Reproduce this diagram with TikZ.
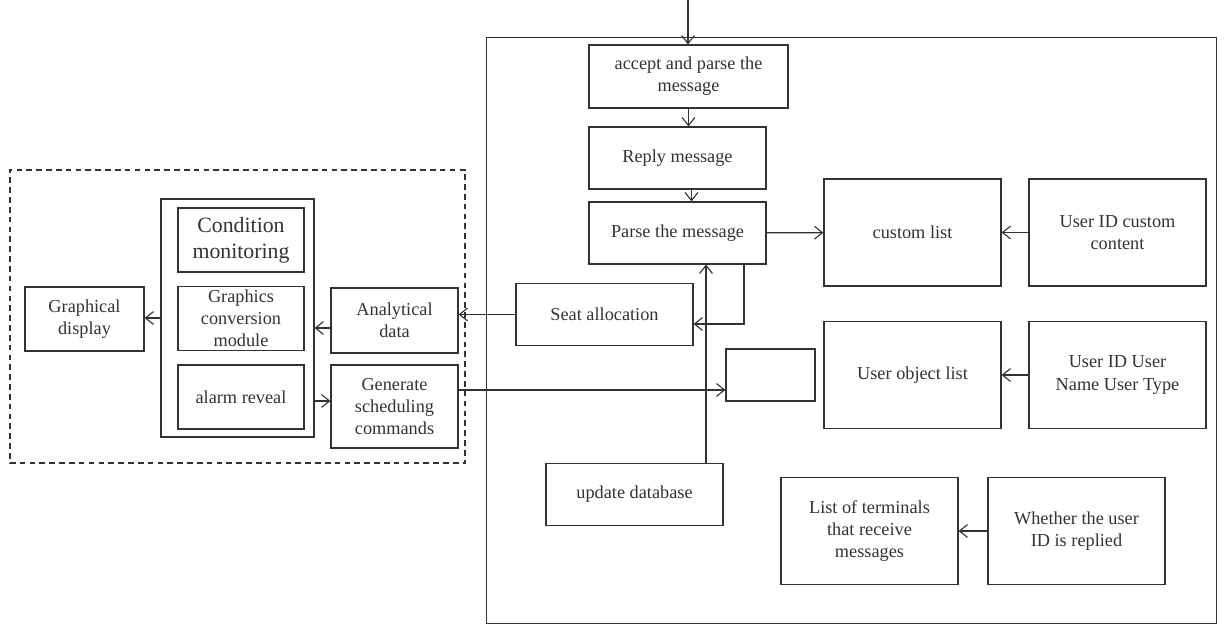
\documentclass[tikz,border=0pt]{standalone}
\usepackage{xcolor}
\usepackage{fontspec}
\setmainfont{Liberation Serif}
\usepackage{tikz}
\usetikzlibrary{arrows.meta}
\definecolor{DiagramGray}{RGB}{50,50,50}

\begin{document}
\begin{tikzpicture}[x=0.025cm, y=-0.025cm, line width=0.8pt, color=DiagramGray,
    >={Straight Barb[length=2mm,width=3.2mm]},
    box/.style={draw, rectangle, align=center, inner sep=1pt, font=\fontsize{13}{15.8}\selectfont},
    midbox/.style={box, minimum width=4.425cm, minimum height=1.55cm},
    bigbox/.style={box, minimum width=4.425cm, minimum height=2.675cm},
    smallbox/.style={box, minimum width=3.15cm, minimum height=1.6cm}]
    \useasboundingbox (0,0) rectangle (1226,629);

    \node (Server) [draw, rectangle, minimum width=18.225cm, minimum height=14.625cm] at (851.5,330.5) {};
    \node (Client) [draw, rectangle, dash pattern=on 4pt off 3pt, minimum width=11.375cm, minimum height=7.325cm] at (237.5,316.5) {};

    \node (AcceptParse) [box, minimum width=4.975cm, minimum height=1.575cm] at (688.5,76.5) {accept and parse the\\message};
    \node (ReplyMsg) [midbox] at (677.5,158) {Reply message};
    \node (ParseMsg) [midbox] at (677.5,233) {Parse the message};
    \node (SeatAlloc) [midbox] at (604.5,314.5) {Seat allocation};
    \node (UpdateDB) [midbox] at (634.5,494.5) {update database};
    \node (Blank) [box, minimum width=2.225cm, minimum height=1.3cm] at (770.5,375) {};
    \node (CustomList) [bigbox] at (912.5,232.5) {custom list};
    \node (CustomContent) [bigbox] at (1117.5,232.5) {User ID custom\\content};
    \node (ObjectList) [bigbox] at (912.5,375) {User object list};
    \node (UserInfo) [bigbox] at (1117.5,375) {User ID User\\Name User Type};
    \node (TerminalList) [bigbox] at (869.5,531) {List of terminals\\that receive\\messages};
    \node (ReplyCheck) [bigbox] at (1076.5,531) {Whether the user\\ID is replied};

    \node (Monitor) [draw, rectangle, minimum width=3.825cm, minimum height=5.95cm] at (237.5,318) {};
    \node (CondMon) [smallbox, font=\fontsize{15.5}{18.5}\selectfont] at (241,240) {Condition\\monitoring};
    \node (GraphConv) [smallbox] at (241,318.5) {Graphics\\conversion\\module};
    \node (AlarmReveal) [smallbox] at (241,397) {alarm reveal};
    \node (GraphDisplay) [box, minimum width=2.975cm, minimum height=1.6cm] at (84.5,319) {Graphical\\display};
    \node (AnalyticData) [box, minimum width=3.175cm, minimum height=1.625cm] at (394.5,320.5) {Analytical\\data};
    \node (GenSched) [box, minimum width=3.175cm, minimum height=2.075cm] at (394.5,406.5) {Generate\\scheduling\\commands};

    \coordinate (InTop) at (688,0);
    \coordinate (DBOut) at ([xshift=1.7875cm]UpdateDB.north);
    \coordinate (DataOut) at ([yshift=-0.1875cm]AnalyticData.west);
    \coordinate (SchedIn) at ([yshift=0.1375cm]GenSched.west);
    \coordinate (SchedOut) at ([yshift=0.4125cm]GenSched.east);

    \draw[->] (InTop) -- (InTop |- AcceptParse.north);
    \draw[->] (AcceptParse.south) -- (ReplyMsg.north -| AcceptParse.south);
    \draw[->] ([xshift=0.35cm]ReplyMsg.south) -- ([xshift=0.35cm]ParseMsg.north);
    \draw[->] (ParseMsg) -- (CustomList);
    \draw[->] (CustomContent) -- (CustomList);
    \draw[->] (UserInfo) -- (ObjectList);
    \draw[->] (ReplyCheck) -- (TerminalList);
    \draw[->] ([xshift=1.6625cm]ParseMsg.south) |- ([yshift=-0.2375cm]SeatAlloc.east);
    \draw[->] (DBOut) -- (DBOut |- ParseMsg.south);
    \draw[->] (SeatAlloc.west) -- (SeatAlloc.west -| AnalyticData.east);
    \draw[->] (DataOut) -- (DataOut -| Monitor.east);
    \draw[->] (Monitor.west) -- (Monitor.west -| GraphDisplay.east);
    \draw[->] (SchedIn -| Monitor.east) -- (SchedIn);
    \draw[->] (SchedOut) -- (SchedOut -| Blank.west);
    \end{tikzpicture}
\end{document}
